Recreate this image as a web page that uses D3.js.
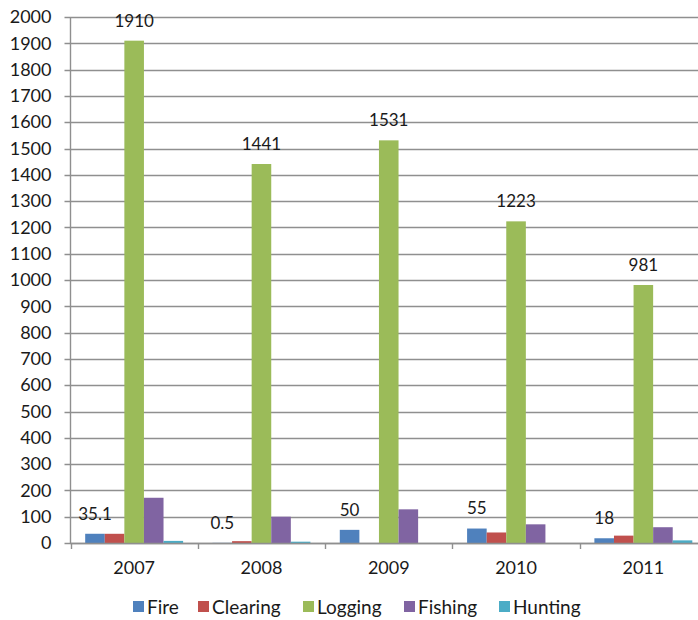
<!DOCTYPE html>
<html>
<head>
<meta charset="utf-8">
<script src="https://cdn.jsdelivr.net/npm/d3@7"></script>
<style>
  html, body { margin: 0; padding: 0; background: #fff; }
  svg { display: block; font-family: Lato, "Open Sans", sans-serif; }
</style>
</head>
<body>
<svg id="chart" width="698" height="620"></svg>
<script>
// Years shown on the category axis
const years = ["2007", "2008", "2009", "2010", "2011"];

// Series, one value per year
const seriesNames = ["Fire", "Clearing", "Logging", "Fishing", "Hunting"];
const fire     = [35.1, 0.5, 50, 55, 18];
const clearing = [35, 7, 0, 40, 28];
const logging  = [1910, 1441, 1531, 1223, 981];
const fishing  = [172, 100, 128, 71, 60];
const hunting  = [8, 5, 0, 0, 10];
const seriesValues = [fire, clearing, logging, fishing, hunting];
const seriesColors = ["#4F81BD", "#C0504D", "#9BBB59", "#8064A2", "#4BACC6"];

// Series whose values are printed above the bars
const labelledSeries = ["Fire", "Logging"];

// Value axis ticks
const yTicks = d3.range(0, 2001, 100);

const svg = d3.select("#chart");
const textColor = "#1a1a1a";
const gridColor = "#8f8f8f";

const plot = { left: 70.5, right: 707, top: 17, bottom: 543 };

const x = d3.scaleBand()
  .domain(years)
  .range([plot.left, plot.right])
  .paddingInner(0)
  .paddingOuter(0);

// Five bars per group with a gap of 1.5 bar widths
const xInner = d3.scaleBand()
  .domain(seriesNames)
  .range([0, x.bandwidth()])
  .paddingInner(0)
  .paddingOuter(0.75);

const y = d3.scaleLinear()
  .domain([0, 2000])
  .range([plot.bottom, plot.top]);

// Horizontal gridlines, with short tick marks left of the axis
svg.append("g")
  .selectAll("line")
  .data(yTicks)
  .join("line")
  .attr("x1", plot.left - 6)
  .attr("x2", 698)
  .attr("y1", d => Math.round(y(d)) + 0.5)
  .attr("y2", d => Math.round(y(d)) + 0.5)
  .attr("stroke", gridColor)
  .attr("stroke-width", 1.4);

// Value axis labels
const yAxis = d3.axisLeft(y).tickValues(yTicks).tickFormat(d3.format("d")).tickSize(0).tickPadding(0);
svg.append("g")
  .attr("transform", `translate(${plot.left - 19},0)`)
  .call(yAxis)
  .call(g => g.select(".domain").remove())
  .call(g => g.selectAll("text")
    .attr("font-size", 18)
    .attr("fill", textColor)
    .attr("font-family", "Lato, 'Open Sans', sans-serif"));

// Vertical axis line
svg.append("line")
  .attr("x1", plot.left).attr("x2", plot.left)
  .attr("y1", plot.top).attr("y2", plot.bottom + 1)
  .attr("stroke", gridColor)
  .attr("stroke-width", 1.4);

// Bars
const groups = svg.append("g")
  .selectAll("g")
  .data(years)
  .join("g")
  .attr("transform", d => `translate(${x(d)},0)`);

groups.selectAll("rect")
  .data((yr, i) => seriesNames.map((s, k) => ({ series: s, value: seriesValues[k][i], color: seriesColors[k] })))
  .join("rect")
  .attr("x", d => xInner(d.series))
  .attr("width", xInner.bandwidth())
  .attr("y", d => y(d.value))
  .attr("height", d => y(0) - y(d.value))
  .attr("fill", d => d.color);

// Data labels above selected bars
groups.selectAll("text")
  .data((yr, i) => labelledSeries.map(s => {
    const k = seriesNames.indexOf(s);
    return { series: s, value: seriesValues[k][i] };
  }))
  .join("text")
  .attr("x", d => xInner(d.series) + xInner.bandwidth() / 2)
  .attr("y", d => y(d.value) - 20)
  .attr("dy", "0.35em")
  .attr("text-anchor", "middle")
  .attr("font-size", 17)
  .attr("fill", textColor)
  .text(d => d.value);

// Category axis: baseline, boundary ticks and year labels
svg.append("line")
  .attr("x1", plot.left).attr("x2", 698)
  .attr("y1", plot.bottom + 0.5).attr("y2", plot.bottom + 0.5)
  .attr("stroke", gridColor)
  .attr("stroke-width", 1.4);

svg.append("g")
  .selectAll("line")
  .data(years)
  .join("line")
  .attr("x1", d => Math.round(x(d)) + 0.5)
  .attr("x2", d => Math.round(x(d)) + 0.5)
  .attr("y1", plot.bottom)
  .attr("y2", plot.bottom + 6)
  .attr("stroke", gridColor)
  .attr("stroke-width", 1.4);

const xAxis = d3.axisBottom(x).tickSize(0).tickPadding(0);
svg.append("g")
  .attr("transform", `translate(0,${plot.bottom + 18})`)
  .call(xAxis)
  .call(g => g.select(".domain").remove())
  .call(g => g.selectAll("text")
    .attr("font-size", 18)
    .attr("fill", textColor)
    .attr("font-family", "Lato, 'Open Sans', sans-serif"));

// Legend
const legendX = [133, 198, 303, 404, 499];
const legend = svg.append("g")
  .selectAll("g")
  .data(seriesNames)
  .join("g")
  .attr("transform", (d, i) => `translate(${legendX[i]},601)`);

legend.append("rect")
  .attr("width", 11).attr("height", 11)
  .attr("fill", (d, i) => seriesColors[i]);

legend.append("text")
  .attr("x", 14)
  .attr("y", 13)
  .attr("font-size", 19)
  .attr("fill", textColor)
  .text(d => d);
</script>
</body>
</html>
